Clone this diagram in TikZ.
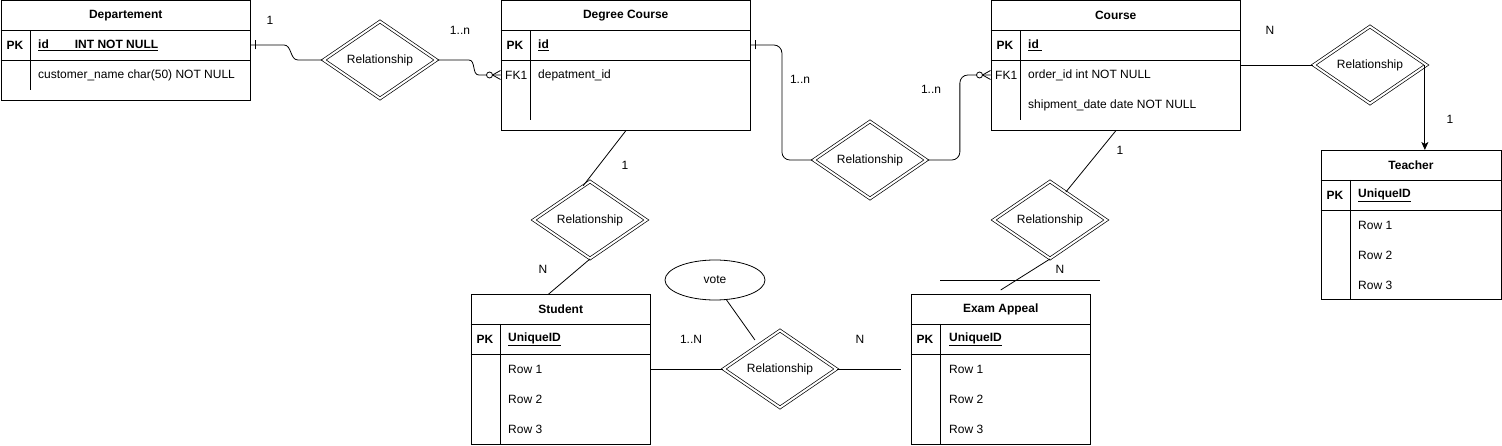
\documentclass[tikz,border=0pt]{standalone}
\usepackage{fontspec}
\setmainfont{Liberation Sans}
\usetikzlibrary{arrows.meta,calc,shapes.geometric,decorations.markings}

\begin{document}
\begin{tikzpicture}[x=1pt, y=-1pt,
  font=\fontsize{12}{14}\selectfont,
  tbl/.style={draw, line width=0.9pt, inner sep=0pt, anchor=north west},
  sep/.style={line width=0.9pt},
  ttl/.style={font=\fontsize{12}{14}\selectfont\bfseries, inner sep=0pt},
  key/.style={font=\fontsize{12}{14}\selectfont\bfseries, inner sep=0pt},
  fld/.style={anchor=west, inner sep=0pt},
  rel/.style={diamond, draw, double, double distance=2pt, line width=0.7pt, inner sep=0pt, minimum width=113pt, minimum height=56pt},
  attr/.style={ellipse, draw, line width=0.8pt, minimum width=100pt, minimum height=40pt, inner sep=0pt},
  card/.style={inner sep=1pt},
  link/.style={line width=0.8pt},
  one/.style={link, postaction={decorate}, decoration={markings, mark=at position 4pt with {\draw[line width=0.8pt] (0,-4.5pt) -- (0,4.5pt);}}},
  many/.style={link, postaction={decorate}, decoration={markings, mark=at position 1 with {\draw[line width=0.8pt] (-8pt,0) -- (0,4.5pt) (-8pt,0) -- (0,-4.5pt); \draw[line width=0.8pt, fill=white] (-11pt,0) circle (3pt);}}},
  arr/.style={link, -{Stealth[length=8pt, width=7pt, inset=2pt]}}]
\useasboundingbox (0,0) rectangle (1502,446);
% Departement
\node[tbl, minimum width=249.5pt, minimum height=99.5pt] (dept) at (0.5,0.5) {};
\draw[sep] ($(dept.north west)+(0,30)$) -- ++(249.5,0) ($(dept.north west)+(0,60)$) -- ++(249.5,0)
  ($(dept.north west)+(30,30)$) -- ++(0,60);
\node[ttl] (deptT) at ($(dept.north)+(0,15)$) {Departement};
\node[key] (deptPK) at (15,45) {PK};
\node[fld, key] (deptId) at (38,45) {\underline{id\hspace{26pt}INT NOT NULL}};
\node[fld] (deptF1) at (38,75) {customer\_name char(50) NOT NULL};
% Degree Course
\node[tbl, minimum width=249.5pt, minimum height=129.5pt] (deg) at (500.5,0.5) {};
\draw[sep] ($(deg.north west)+(0,30)$) -- ++(249.5,0) ($(deg.north west)+(0,60)$) -- ++(249.5,0)
  ($(deg.north west)+(30,30)$) -- ++(0,90);
\node[ttl] (degT) at ($(deg.north)+(0,15)$) {Degree Course};
\node[key] (degPK) at (515,45) {PK};
\node[fld, key] (degId) at (538,45) {\underline{id}};
\node[fld] (degFK) at (505,75) {FK1};
\node[fld] (degF1) at (538,75) {depatment\_id};
% Course
\node[tbl, minimum width=249.5pt, minimum height=129.5pt] (crs) at (990.5,0.5) {};
\draw[sep] ($(crs.north west)+(0,30)$) -- ++(249.5,0) ($(crs.north west)+(0,60)$) -- ++(249.5,0)
  ($(crs.north west)+(29.5,30)$) -- ++(0,90);
\node[ttl] (crsT) at ($(crs.north)+(0,15)$) {Course};
\node[key] (crsPK) at (1005,45) {PK};
\node[fld, key] (crsId) at (1028,45) {\underline{id\ }};
\node[fld] (crsFK) at (995,75) {FK1};
\node[fld] (crsF1) at (1028,75) {order\_id int NOT NULL};
\node[fld] (crsF2) at (1028,105) {shipment\_date date NOT NULL};
% Teacher
\node[tbl, minimum width=180pt, minimum height=149.5pt] (tch) at (1320.5,150) {};
\draw[sep] ($(tch.north west)+(0,30)$) -- ++(180,0) ($(tch.north west)+(0,60)$) -- ++(180,0)
  ($(tch.north west)+(30,30)$) -- ++(0,119.5);
\node[ttl] (tchT) at ($(tch.north)+(0,15)$) {Teacher};
\node[key] (tchPK) at (1335,195) {PK};
\node[fld, key] (tchId) at (1358,195) {\underline{UniqueID}};
\node[fld] (tchR1) at (1358,225) {Row 1};
\node[fld] (tchR2) at (1358,255) {Row 2};
\node[fld] (tchR3) at (1358,285) {Row 3};
% Student
\node[tbl, minimum width=179.5pt, minimum height=150pt] (stu) at (470.5,294) {};
\draw[sep] ($(stu.north west)+(0,30)$) -- ++(179.5,0) ($(stu.north west)+(0,60)$) -- ++(179.5,0)
  ($(stu.north west)+(30,30)$) -- ++(0,120);
\node[ttl] (stuT) at ($(stu.north)+(0,15)$) {Student};
\node[key] (stuPK) at (485,339) {PK};
\node[fld, key] (stuId) at (508,339) {\underline{UniqueID}};
\node[fld] (stuR1) at (508,369) {Row 1};
\node[fld] (stuR2) at (508,399) {Row 2};
\node[fld] (stuR3) at (508,429) {Row 3};
% Exam Appeal
\node[tbl, minimum width=179.5pt, minimum height=150pt] (ex) at (910.5,294) {};
\draw[sep] ($(ex.north west)+(0,30)$) -- ++(179.5,0) ($(ex.north west)+(0,60)$) -- ++(179.5,0)
  ($(ex.north west)+(30,30)$) -- ++(0,120);
\node[ttl] (exT) at ($(ex.north)+(0,15)$) {Exam Appeal};
\node[key] (exPK) at (925,339) {PK};
\node[fld, key] (exId) at (949,339) {\underline{UniqueID}};
\node[fld] (exR1) at (949,369) {Row 1};
\node[fld] (exR2) at (949,399) {Row 2};
\node[fld] (exR3) at (949,429) {Row 3};
% relationships
\node[rel] (r1) at (380,60) {Relationship};
\node[rel] (r2) at (870,160) {Relationship};
\node[rel] (r3) at (1370,65) {Relationship};
\node[rel] (r4) at (590,220) {Relationship};
\node[rel] (r5) at (1050,220) {Relationship};
\node[rel] (r6) at (780,369) {Relationship};
\node[attr] (vote) at (715,280) {vote};
% connectors
\draw[one] (dept.east |- deptPK) -- ++(33,0) to[out=0, in=180] ++(14,15) -- (r1.west);
\draw[many] (r1.east) -- ++(32,0) to[out=0, in=180] ++(10,15) -- (deg.west |- degFK);
\draw[one, rounded corners=8pt] (deg.east |- degPK) -- ++(31,0) |- (r2.west);
\draw[many, rounded corners=8pt] (r2.east) -- ++(33,0) |- (crs.west |- crsFK);
\draw[link] (crs.east |- r3.west) -- (r3.west);
\coordinate (t3) at ($(r3.east)+(-2,0)$);
\draw[arr] (t3) -- (t3 |- tch.north);
\draw[link] (deg.south) -- ($(r4.north)!0.12!(r4.west)$);
\draw[link] (r4.south) -- ($(stu.north)+(-12,0)$);
\draw[link] (crs.south) -- ($(r5.north)!0.28!(r5.east)$);
\draw[link] (r5.south) -- ($(ex.north)+(0,-4)$);
\coordinate (s1) at (940,280);
\coordinate (s2) at (1100,280);
\draw[link] (s1) -- (s2);
\draw[link] (stu.east |- r6.west) -- (r6.west);
\draw[link] (r6.east) -- ($(ex.west |- r6.east)+(-10,0)$);
\draw[link, shorten >=6pt] (vote.-60) -- ($(r6.north)!0.38!(r6.west)$);
% cardinalities
\node[card] (k1) at (270,20) {1};
\node[card] (k2) at (460,30) {1..n};
\node[card] (k3) at (800,79) {1..n};
\node[card] (k4) at (931,89) {1..n};
\node[card] (k5) at (1270,30) {N};
\node[card] (k6) at (1450,119) {1};
\node[card] (k7) at (625,165) {1};
\node[card] (k8) at (543,269) {N};
\node[card] (k9) at (1120,150) {1};
\node[card] (k10) at (1060,269) {N};
\node[card] (k11) at (691,339) {1..N};
\node[card] (k12) at (860,339) {N};
\end{tikzpicture}
\end{document}
